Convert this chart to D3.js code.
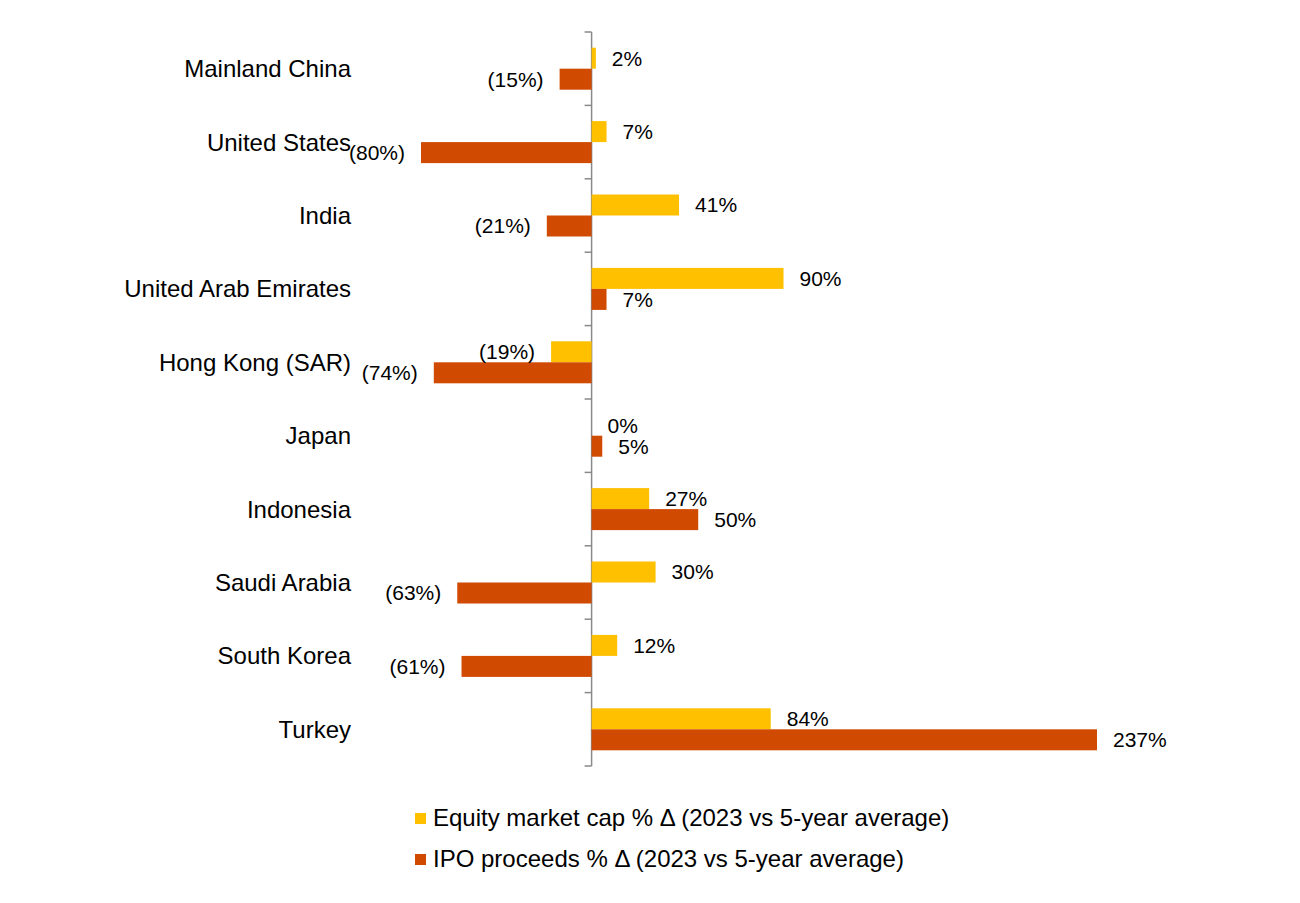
<!DOCTYPE html>
<html>
<head>
<meta charset="utf-8">
<script src="https://cdn.jsdelivr.net/npm/d3@7"></script>
<style>
body { margin: 0; background: #fff; }
text { font-family: "Liberation Sans", Arial, sans-serif; fill: #000; }
</style>
</head>
<body>
<script>
var w = 1300;
var h = 903;

var countries = ["Mainland China", "United States", "India", "United Arab Emirates", "Hong Kong (SAR)",
	"Japan", "Indonesia", "Saudi Arabia", "South Korea", "Turkey"];
var equityCap = [2, 7, 41, 90, -19, 0, 27, 30, 12, 84];
var ipoProceeds = [-15, -80, -21, 7, -74, 5, 50, -63, -61, 237];
var seriesNames = ["Equity market cap % \u0394 (2023 vs 5-year average)", "IPO proceeds % \u0394 (2023 vs 5-year average)"];
var colors = ["#FFC000", "#D04A02"];

var svg = d3.select("body")
	.append("svg")
	.attr("width", w)
	.attr("height", h);

var x = d3.scaleLinear().domain([-80, 237]).range([421, 1097]);
var y = d3.scaleBand().domain(countries).range([32, 766]).paddingInner(0).paddingOuter(0);
var barH = 21;

var rows = countries.map(function(c, i){
	return {name: c, vals: [equityCap[i], ipoProceeds[i]]};
});

// vertical axis with ticks on the band edges
var x0 = x(0);
var axisCol = "#898989";
svg.append("line")
	.attr("x1", x0).attr("x2", x0)
	.attr("y1", y.range()[0]).attr("y2", y.range()[1])
	.attr("stroke", axisCol).attr("stroke-width", 1.5);
var edges = countries.map(function(c){ return y(c); }).concat([y.range()[1]]);
svg.selectAll(".tick")
	.data(edges)
	.enter()
	.append("line")
	.attr("x1", x0 - 7).attr("x2", x0)
	.attr("y1", function(d){ return d; })
	.attr("y2", function(d){ return d; })
	.attr("stroke", axisCol).attr("stroke-width", 1.5);

// category labels
svg.selectAll(".cat")
	.data(countries)
	.enter()
	.append("text")
	.attr("x", 351)
	.attr("y", function(d){ return y(d) + y.bandwidth() / 2; })
	.attr("dy", "0.35em")
	.attr("text-anchor", "end")
	.style("font-size", "24px")
	.text(function(d){ return d; });

function fmt(v){
	return v < 0 ? "(" + Math.abs(v) + "%)" : v + "%";
}

var groups = svg.selectAll(".row")
	.data(rows)
	.enter()
	.append("g")
	.attr("transform", function(d){
		return "translate(0," + (y(d.name) + (y.bandwidth() - 2 * barH) / 2) + ")";
	});

groups.selectAll("rect")
	.data(function(d){ return d.vals; })
	.enter()
	.append("rect")
	.attr("x", function(d){ return Math.min(x(d), x0); })
	.attr("y", function(d, i){ return i * barH; })
	.attr("width", function(d){ return Math.abs(x(d) - x0); })
	.attr("height", barH)
	.attr("fill", function(d, i){ return colors[i]; });

groups.selectAll(".lbl")
	.data(function(d){ return d.vals; })
	.enter()
	.append("text")
	.attr("x", function(d){ return d < 0 ? x(d) - 16 : x(d) + 16; })
	.attr("y", function(d, i){ return i * barH + barH / 2; })
	.attr("dy", "0.35em")
	.attr("text-anchor", function(d){ return d < 0 ? "end" : "start"; })
	.style("font-size", "21px")
	.text(fmt);

// legend
var legend = svg.selectAll(".leg")
	.data(seriesNames)
	.enter()
	.append("g")
	.attr("transform", function(d, i){ return "translate(415," + (818 + i * 41) + ")"; });
legend.append("rect")
	.attr("x", 0).attr("y", -5)
	.attr("width", 11).attr("height", 11)
	.attr("fill", function(d, i){ return colors[i]; });
legend.append("text")
	.attr("x", 18)
	.attr("y", 0)
	.attr("dy", "0.35em")
	.style("font-size", "24px")
	.text(function(d){ return d; });
</script>
</body>
</html>
